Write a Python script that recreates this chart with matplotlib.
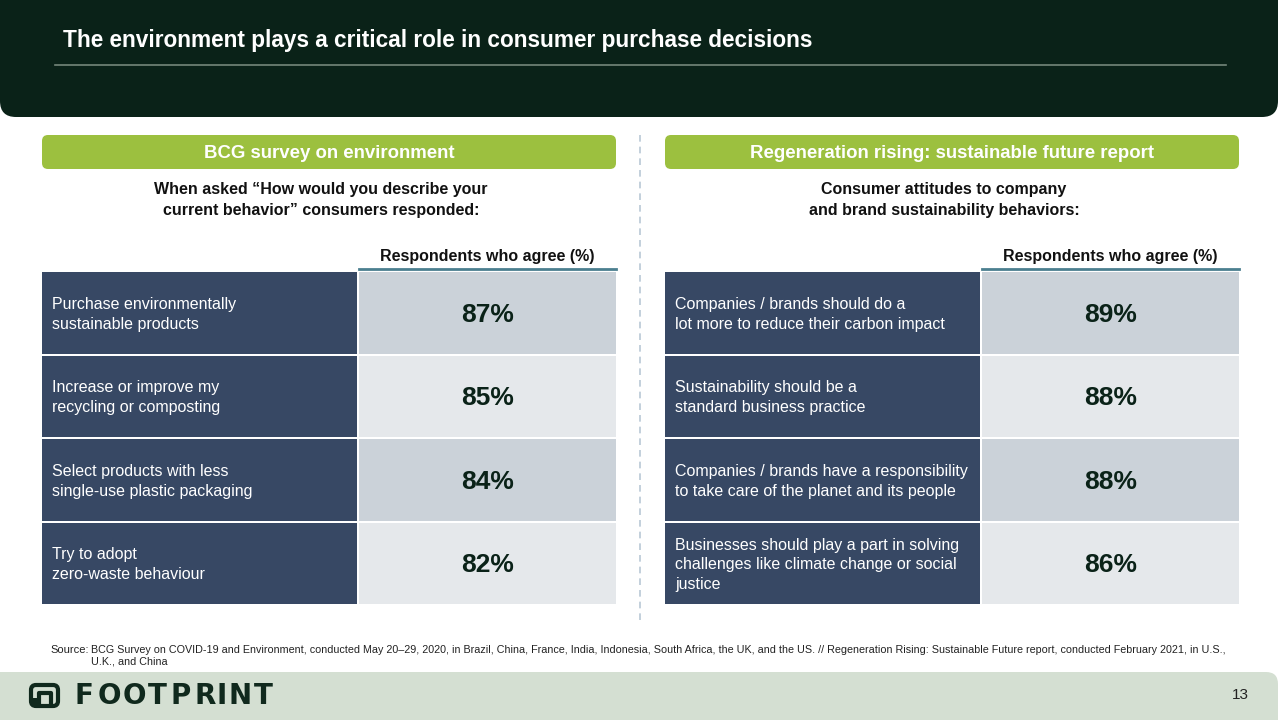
import matplotlib
matplotlib.use('Agg')
import matplotlib.pyplot as plt
from matplotlib.patches import Rectangle, FancyBboxPatch
from matplotlib import font_manager

# data
title = 'The environment plays a critical role in consumer purchase decisions'
panel_titles = ['BCG survey on environment', 'Regeneration rising: sustainable future report']
panel_subtitles = ['When asked \u201cHow would you describe your\ncurrent behavior\u201d consumers responded:',
                   'Consumer attitudes to company\nand brand sustainability behaviors:']
column_header = 'Respondents who agree (%)'

left_labels = ['Purchase environmentally\nsustainable products',
               'Increase or improve my\nrecycling or composting',
               'Select products with less\nsingle-use plastic packaging',
               'Try to adopt\nzero-waste behaviour']
left_values = [87, 85, 84, 82]

right_labels = ['Companies / brands should do a\nlot more to reduce their carbon impact',
                'Sustainability should be a\nstandard business practice',
                'Companies / brands have a responsibility\nto take care of the planet and its people',
                'Businesses should play a part in solving\nchallenges like climate change or social\njustice']
right_values = [89, 88, 88, 86]

source_text = ('BCG Survey on COVID-19 and Environment, conducted May 20\u201329, 2020, in Brazil, China, France, India, '
               'Indonesia, South Africa, the UK, and the US. // Regeneration Rising: Sustainable Future report, '
               'conducted February 2021, in U.S.,\nU.K., and China')
page_number = '13'
brand = 'FOOTPRINT'

# colours
DARK = '#0a2218'
GREEN = '#9cc03f'
LABEL_BG = '#374864'
VALUE_BG = ['#cbd2d9', '#e5e8eb']
TEAL = '#4b7f8f'
FOOTER = '#d4dfd2'
LOGO = '#10291d'

installed = {f.name for f in font_manager.fontManager.ttflist}
FONT = 'Liberation Sans' if 'Liberation Sans' in installed else 'DejaVu Sans'
NARROW = 'Liberation Sans Narrow' if 'Liberation Sans Narrow' in installed else FONT
plt.rcParams['font.family'] = [FONT, 'DejaVu Sans']

fig = plt.figure(figsize=(12.8, 7.2), dpi=100)
ax = fig.add_axes([0, 0, 1, 1])
ax.set_xlim(0, 1280)
ax.set_ylim(720, 0)
ax.axis('off')

# header band
ax.add_patch(FancyBboxPatch((0, -60), 1278, 177, boxstyle='round,pad=0,rounding_size=16',
                            fc=DARK, ec='none'))
t = ax.text(63, 41, title, color='white', fontsize=19.5, fontweight='bold', family=NARROW,
            va='center', ha='left')
# squeeze title to the reference width
fig.canvas.draw()
w = t.get_window_extent().width
t.set_fontsize(19.5 * min(1.0, 752 / w))
ax.plot([55, 1226], [65, 65], color='#74867a', lw=1.2)

# divider between panels
ax.plot([640, 640], [135, 620], color='#b9c8d6', lw=1.2, ls=(0, (4, 3)))

panels = [(42, left_labels, left_values), (665, right_labels, right_values)]
row_top = 272
row_h = 83.5
label_w = 315
value_w = 257
for p, (x0, labels, values) in enumerate(panels):
    width = label_w + 2 + value_w
    ax.add_patch(FancyBboxPatch((x0, 135), width, 34, boxstyle='round,pad=0,rounding_size=6',
                                fc=GREEN, ec='none'))
    ax.text(x0 + width / 2, 153, panel_titles[p], color='white', fontsize=13.4, fontweight='bold',
            ha='center', va='center')
    ax.text(x0 + width / 2 - 8, 200, panel_subtitles[p], color='#111111', fontsize=11.5,
            fontweight='bold', ha='center', va='center', linespacing=1.45)
    vx = x0 + label_w + 2
    ax.text(vx + value_w / 2, 256, column_header, color='#111111', fontsize=11.5,
            fontweight='bold', ha='center', va='center')
    ax.plot([vx, vx + value_w], [268.5, 268.5], color=TEAL, lw=2)
    for i, (lab, val) in enumerate(zip(labels, values)):
        y = row_top + i * row_h
        ax.add_patch(Rectangle((x0, y), label_w, row_h - 2, fc=LABEL_BG, ec='none'))
        ax.add_patch(Rectangle((vx, y), value_w, row_h - 2, fc=VALUE_BG[i % 2], ec='none'))
        ax.text(x0 + 10, y + (row_h - 2) / 2 + 1.5, lab, color='white', fontsize=11.5,
                ha='left', va='center', linespacing=1.38)
        ax.text(vx + value_w / 2, y + (row_h - 2) / 2 + 2, f'{val}%', color=DARK, fontsize=19,
                fontweight='bold', ha='center', va='center')

# source note
ax.text(50, 650, 'Source:', fontsize=8, color='#222222', ha='left', va='center')
s = ax.text(91, 656, source_text, fontsize=8.5, color='#222222', ha='left', va='center',
            linespacing=1.2)
fig.canvas.draw()
sw = s.get_window_extent().width
s.set_fontsize(8.5 * 1126 / sw)

# footer band
ax.add_patch(FancyBboxPatch((-30, 672), 1308, 80, boxstyle='round,pad=0,rounding_size=12',
                            fc=FOOTER, ec='none'))
ax.add_patch(FancyBboxPatch((31, 685), 27, 21, boxstyle='round,pad=0,rounding_size=5',
                            fc='none', ec=LOGO, lw=3))
ax.plot([39, 39, 51, 51], [705, 693, 693, 705], color=LOGO, lw=3, solid_capstyle='butt')
ax.add_patch(Rectangle((32.5, 698), 5, 7, fc=LOGO, ec='none'))
# wide-spaced brand lettering
letter_x = [84, 109, 134, 157, 181, 205, 222, 240, 263]
for ch, lx in zip(brand, letter_x):
    ax.text(lx, 696, ch, fontsize=20, fontweight='bold', family='DejaVu Sans',
            color=LOGO, ha='center', va='center')
ax.text(1240, 695, page_number, fontsize=11, color='#222222', ha='center', va='center')

fig.savefig('out.png', dpi=100)
